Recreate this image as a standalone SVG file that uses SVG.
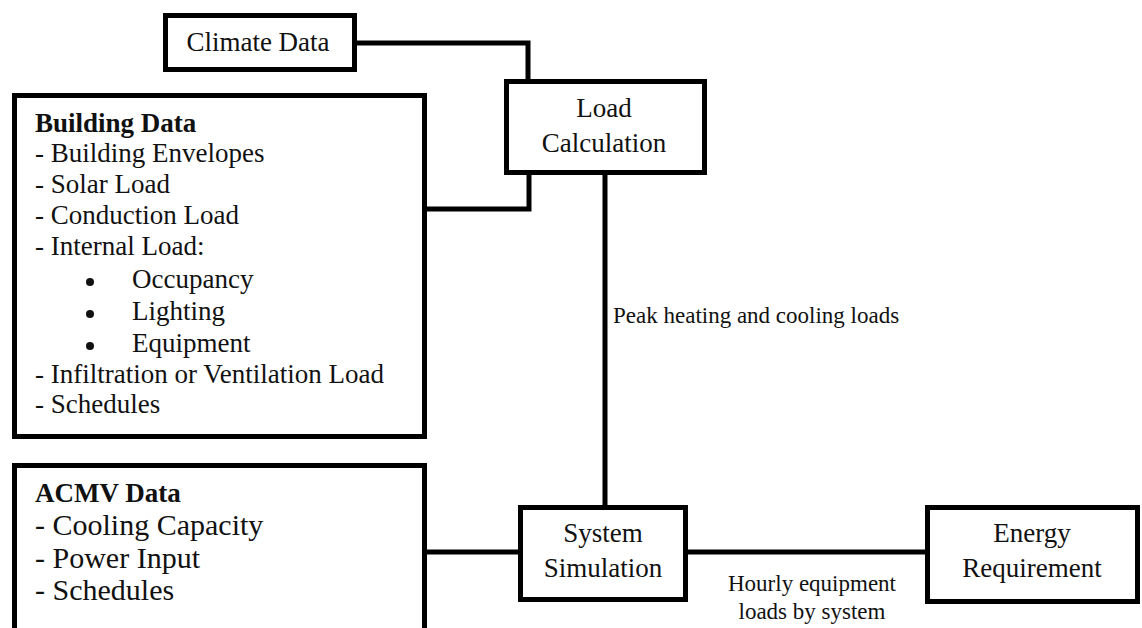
<svg xmlns="http://www.w3.org/2000/svg" width="1142" height="628" viewBox="0 0 1142 628">
<style>
.box{fill:#fff;stroke:#000;stroke-width:5}
.ln{fill:none;stroke:#000;stroke-width:5}
text{font-family:"Liberation Serif","Times New Roman",serif;fill:#111}
.t27{font-size:27px}
.t30{font-size:30px}
.b{font-weight:bold}
.c{text-anchor:middle}
.lbl{font-size:23px}
</style>
<rect width="1142" height="628" fill="#fff"/>
<g id="connectors">
<path class="ln" d="M357 43 H528 V81"/>
<path class="ln" d="M427 209 H529 V173"/>
<path class="ln" d="M605 174 V506" stroke-width="4.5"/>
<path class="ln" d="M427 552 H520"/>
<path class="ln" d="M686 552 H927"/>
<text class="lbl" x="613" y="323">Peak heating and cooling loads</text>
<text class="lbl c" x="812" y="591">Hourly equipment</text>
<text class="lbl c" x="812" y="619">loads by system</text>
</g>
<g id="climate-data">
<rect class="box" x="165.5" y="15.5" width="189" height="54"/>
<text class="t27 c" x="258" y="51">Climate Data</text>
</g>
<g id="load-calculation">
<rect class="box" x="506.5" y="81.5" width="198" height="91"/>
<text class="t27 c" x="604" y="117">Load</text>
<text class="t27 c" x="604" y="152">Calculation</text>
</g>
<g id="building-data">
<rect class="box" x="14.5" y="95.5" width="410" height="341"/>
<text class="t27 b" x="35" y="132">Building Data</text>
<text class="t27" x="35" y="162">- Building Envelopes</text>
<text class="t27" x="35" y="193">- Solar Load</text>
<text class="t27" x="35" y="224">- Conduction Load</text>
<text class="t27" x="35" y="255">- Internal Load:</text>
<circle cx="90" cy="282" r="4" fill="#111"/>
<text class="t27" x="132" y="288">Occupancy</text>
<circle cx="90" cy="314" r="4" fill="#111"/>
<text class="t27" x="132" y="320">Lighting</text>
<circle cx="90" cy="346" r="4" fill="#111"/>
<text class="t27" x="132" y="352">Equipment</text>
<text class="t27" x="35" y="383">- Infiltration or Ventilation Load</text>
<text class="t27" x="35" y="413">- Schedules</text>
</g>
<g id="acmv-data">
<rect class="box" x="14.5" y="465.5" width="410" height="200"/>
<text class="t27 b" x="35" y="502">ACMV Data</text>
<text class="t30" x="35" y="535">- Cooling Capacity</text>
<text class="t30" x="35" y="568">- Power Input</text>
<text class="t30" x="35" y="600">- Schedules</text>
</g>
<g id="system-simulation">
<rect class="box" x="520.5" y="507.5" width="165" height="92"/>
<text class="t27 c" x="603" y="542">System</text>
<text class="t27 c" x="603" y="577">Simulation</text>
</g>
<g id="energy-requirement">
<rect class="box" x="927.5" y="507.5" width="210" height="94"/>
<text class="t27 c" x="1032" y="542">Energy</text>
<text class="t27 c" x="1032" y="577">Requirement</text>
</g>
</svg>
